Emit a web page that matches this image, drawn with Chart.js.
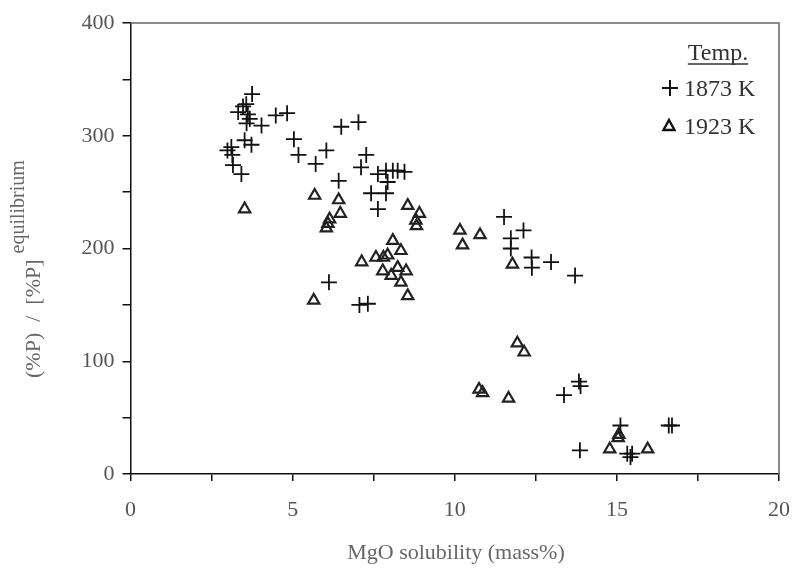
<!DOCTYPE html>
<html>
<head>
<meta charset="utf-8">
<script src="https://cdn.jsdelivr.net/npm/chart.js@4.4.1/dist/chart.umd.min.js"></script>
<style>
  html, body { margin: 0; padding: 0; background: #fff; }
  #wrap { width: 795px; height: 574px; position: relative; }
</style>
</head>
<body>
<div id="wrap"><canvas id="mgoChart"></canvas></div>
<script>
// 1873 K (plus markers)
const mgo1873 = [3.75, 3.47, 3.57, 3.32, 3.62, 3.68, 3.58, 4.04, 4.48, 4.83,
  6.50, 7.03, 5.04, 5.18, 6.04, 5.71, 3.52, 3.73, 2.99, 3.11,
  3.14, 3.16, 3.42, 7.27, 7.11, 6.42, 7.63, 7.88, 8.09, 8.24,
  8.45, 7.93, 7.42, 7.88, 7.63, 6.12, 7.06, 7.32, 11.52, 12.12,
  11.73, 11.73, 12.37, 12.38, 12.97, 13.71, 13.37, 13.83, 13.88, 13.86,
  15.11, 15.32, 15.47, 15.42, 16.60, 16.70];
const ratio1873 = [337, 326, 328, 321, 319, 315, 311, 309, 318, 320,
  308, 312, 297, 283, 287, 275, 296, 292, 287, 290,
  283, 274, 266, 283, 272, 260, 266, 269, 269, 269,
  268, 259, 249, 249, 235, 170, 150, 151, 228, 216,
  209, 200, 192, 183, 188, 176, 70, 82, 78, 21,
  43, 18, 18, 15, 43, 43];

// 1923 K (triangle markers)
const mgo1923 = [3.52, 5.68, 6.42, 6.47, 6.14, 6.09, 6.04, 5.65, 7.13, 7.57,
  8.55, 8.91, 8.80, 8.82, 10.16, 10.78, 10.24, 11.78, 8.09, 8.34,
  7.93, 7.80, 7.78, 8.24, 8.50, 8.04, 8.34, 8.55, 11.93, 12.14,
  10.75, 10.86, 11.66, 14.78, 15.06, 15.04, 15.95];
const ratio1923 = [235, 247, 243, 231, 226, 222, 218, 154, 188, 192,
  238, 231, 225, 220, 216, 212, 203, 186, 207, 198,
  194, 192, 180, 183, 180, 176, 170, 158, 116, 108,
  75, 72, 67, 22, 35, 32, 22];

const xTicksMajor = [0, 5, 10, 15, 20];
const yTicksMajor = [0, 100, 200, 300, 400];

const toPoints = (xs, ys) => xs.map((x, i) => ({ x: x, y: ys[i] }));

const serif = '"Liberation Serif", "DejaVu Serif", serif';

// frame, axis titles and the little legend box
const extras = {
  id: 'extras',
  afterDraw(chart) {
    const ctx = chart.ctx;
    const a = chart.chartArea;
    ctx.save();
    // top and right frame
    ctx.strokeStyle = '#666';
    ctx.lineWidth = 1.5;
    ctx.beginPath();
    ctx.moveTo(a.left, a.top);
    ctx.lineTo(a.right, a.top);
    ctx.lineTo(a.right, a.bottom);
    ctx.stroke();

    // x title
    ctx.fillStyle = '#666';
    ctx.font = '22px ' + serif;
    ctx.textAlign = 'center';
    ctx.textBaseline = 'middle';
    ctx.fillText('MgO solubility (mass%)', 456, 553);

    // y title with superscript
    ctx.save();
    ctx.translate(40, 378);
    ctx.rotate(-Math.PI / 2);
    ctx.textAlign = 'left';
    ctx.textBaseline = 'alphabetic';
    ctx.font = '22px ' + serif;
    const main = '(%P)  /  [%P]';
    const mainW = ctx.measureText(main).width;
    ctx.fillText(main, 0, 0);
    ctx.font = '20px ' + serif;
    ctx.fillText('equilibrium', mainW + 6, -16);
    ctx.restore();

    // legend
    ctx.fillStyle = '#333';
    ctx.font = '24px ' + serif;
    ctx.textAlign = 'center';
    ctx.textBaseline = 'alphabetic';
    ctx.fillText('Temp.', 718, 60);
    const tw = ctx.measureText('Temp.').width;
    ctx.strokeStyle = '#333';
    ctx.lineWidth = 1.5;
    ctx.beginPath();
    ctx.moveTo(718 - tw / 2, 64);
    ctx.lineTo(718 + tw / 2, 64);
    ctx.stroke();

    ctx.textAlign = 'left';
    ctx.fillText('1873 K', 684, 96);
    ctx.fillText('1923 K', 684, 134);
    ctx.strokeStyle = '#111';
    ctx.lineWidth = 2;
    ctx.beginPath();
    ctx.moveTo(662, 88); ctx.lineTo(678, 88);
    ctx.moveTo(670, 80); ctx.lineTo(670, 96);
    ctx.stroke();
    ctx.lineWidth = 2.4;
    ctx.beginPath();
    ctx.moveTo(669, 120); ctx.lineTo(674.5, 130); ctx.lineTo(663.5, 130); ctx.closePath();
    ctx.stroke();
    ctx.restore();
  }
};

new Chart(document.getElementById('mgoChart'), {
  type: 'scatter',
  data: {
    datasets: [{
      label: '1873 K',
      data: toPoints(mgo1873, ratio1873),
      pointStyle: 'cross',
      pointRadius: 8,
      borderColor: '#111',
      borderWidth: 1.8,
      backgroundColor: '#111'
    }, {
      label: '1923 K',
      data: toPoints(mgo1923, ratio1923),
      pointStyle: 'triangle',
      pointRadius: 6.5,
      borderColor: '#222',
      borderWidth: 2.2,
      backgroundColor: 'rgba(255,255,255,0)'
    }]
  },
  options: {
    responsive: true,
    maintainAspectRatio: false,
    animation: false,
    layout: { padding: { top: 23, right: 16, left: 0, bottom: 0 } },
    plugins: {
      legend: { display: false },
      tooltip: { enabled: false }
    },
    scales: {
      x: {
        type: 'linear',
        min: 0,
        max: 20,
        afterFit: (s) => { s.height = 100; s.paddingLeft = 0; s.paddingRight = 0; },
        ticks: {
          stepSize: 2.5,
          autoSkip: false,
          maxRotation: 0,
          padding: 16,
          color: '#555',
          font: { family: serif, size: 22 },
          callback: (v) => xTicksMajor.includes(v) ? v : ''
        },
        grid: {
          drawOnChartArea: false,
          drawTicks: true,
          tickLength: 7,
          color: '#111',
          lineWidth: 1.5
        },
        border: { color: '#111', width: 1.5 }
      },
      y: {
        type: 'linear',
        min: 0,
        max: 400,
        afterFit: (s) => { s.width = 130.5; s.paddingTop = 0; s.paddingBottom = 0; },
        ticks: {
          stepSize: 50,
          autoSkip: false,
          padding: 8,
          color: '#555',
          font: { family: serif, size: 22 },
          callback: (v) => yTicksMajor.includes(v) ? v : ''
        },
        grid: {
          drawOnChartArea: false,
          drawTicks: true,
          tickLength: 8,
          color: '#111',
          lineWidth: 1.5
        },
        border: { color: '#111', width: 1.5 }
      }
    }
  },
  plugins: [extras]
});
</script>
</body>
</html>
